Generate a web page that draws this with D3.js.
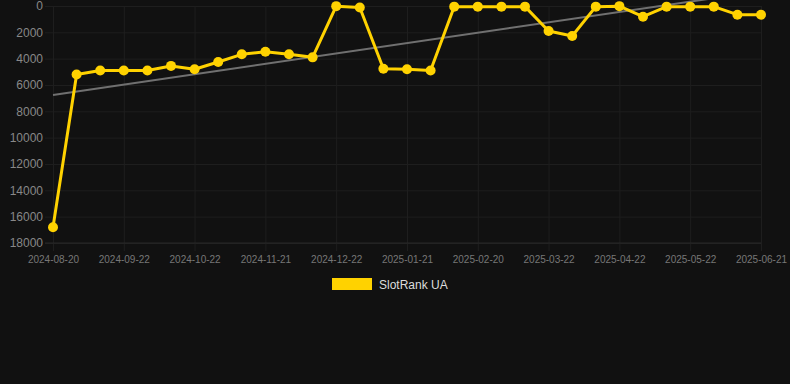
<!DOCTYPE html>
<html>
<head>
<meta charset="utf-8">
<script src="https://cdn.jsdelivr.net/npm/d3@7"></script>
<style>
  html, body { margin: 0; padding: 0; background: #111111; }
  #chart { width: 790px; height: 384px; }
  text { font-family: "Liberation Sans", Arial, sans-serif; }
</style>
</head>
<body>
<div id="chart"></div>
<script>
// dates of each rank reading (category axis, every 3rd is labelled)
var dates = [
  "2024-08-20", "2024-08-31", "2024-09-11", "2024-09-22", "2024-10-02", "2024-10-12",
  "2024-10-22", "2024-11-01", "2024-11-11", "2024-11-21", "2024-12-01", "2024-12-12",
  "2024-12-22", "2025-01-01", "2025-01-11", "2025-01-21", "2025-01-31", "2025-02-10",
  "2025-02-20", "2025-03-02", "2025-03-12", "2025-03-22", "2025-04-01", "2025-04-12",
  "2025-04-22", "2025-05-02", "2025-05-12", "2025-05-22", "2025-06-01", "2025-06-11",
  "2025-06-21"
];

var ranks = [
  16800, 5200, 4900, 4900, 4900, 4550,
  4800, 4250, 3670, 3470, 3670, 3900,
  10, 120, 4760, 4810, 4900, 50,
  50, 50, 50, 1900, 2280, 50,
  10, 810, 50, 50, 50, 660,
  660
];

// trend line, value at first and last date
var trend = [6760, -1120];

var yTicks = [0, 2000, 4000, 6000, 8000, 10000, 12000, 14000, 16000, 18000];
var xTickLabels = dates.filter(function(d, i) { return i % 3 === 0; });

var seriesName = "SlotRank UA";

var width = 790, height = 384;
var margin = {top: 6, right: 29, bottom: 141, left: 53};
var plotW = width - margin.left - margin.right,
    plotH = height - margin.top - margin.bottom;

var svg = d3.select("#chart").append("svg")
    .attr("width", width)
    .attr("height", height)
    .style("background", "#111111");

var g = svg.append("g")
    .attr("transform", "translate(" + margin.left + "," + margin.top + ")");

var x = d3.scalePoint()
    .domain(dates)
    .range([0, plotW]);

// rank axis is reversed: 0 on top
var y = d3.scaleLinear()
    .domain([0, 18000])
    .range([0, plotH]);

var gridColor = "#1e1e1e";

// horizontal grid + y labels
var yAxis = g.append("g")
    .call(d3.axisLeft(y)
        .tickValues(yTicks)
        .tickFormat(function(d) { return d; })
        .tickSize(8)
        .tickPadding(2));
yAxis.select(".domain").remove();
yAxis.selectAll(".tick line").attr("stroke", gridColor);
yAxis.selectAll(".tick").append("line")
    .attr("x1", 0)
    .attr("x2", plotW)
    .attr("stroke", gridColor);
yAxis.selectAll(".tick text")
    .attr("fill", "#888888")
    .style("font-size", "12px");

// vertical grid + x labels
var xAxis = g.append("g")
    .attr("transform", "translate(0," + plotH + ")")
    .call(d3.axisBottom(x)
        .tickValues(xTickLabels)
        .tickSize(8)
        .tickPadding(5));
xAxis.select(".domain").remove();
xAxis.selectAll(".tick line").attr("stroke", gridColor);
xAxis.selectAll(".tick").append("line")
    .attr("y1", 0)
    .attr("y2", -plotH)
    .attr("stroke", gridColor);
xAxis.selectAll(".tick text")
    .attr("fill", "#777777")
    .style("font-size", "10px");

// bottom axis line
g.append("line")
    .attr("x1", -8)
    .attr("x2", plotW)
    .attr("y1", plotH)
    .attr("y2", plotH)
    .attr("stroke", "#282828");

// trend line
g.append("line")
    .attr("x1", x(dates[0]))
    .attr("y1", y(trend[0]))
    .attr("x2", x(dates[dates.length - 1]))
    .attr("y2", y(trend[1]))
    .attr("stroke", "#707070")
    .attr("stroke-width", 2);

var line = d3.line()
    .x(function(d, i) { return x(dates[i]); })
    .y(function(d) { return y(d); });

g.append("path")
    .datum(ranks)
    .attr("fill", "none")
    .attr("stroke", "#FFD200")
    .attr("stroke-width", 3)
    .attr("stroke-linejoin", "round")
    .attr("d", line);

g.selectAll(".dot")
    .data(ranks)
    .enter().append("circle")
    .attr("class", "dot")
    .attr("cx", function(d, i) { return x(dates[i]); })
    .attr("cy", function(d) { return y(d); })
    .attr("r", 5)
    .attr("fill", "#FFD200");

// legend
var legend = svg.append("g").attr("transform", "translate(332,278)");
legend.append("rect")
    .attr("width", 40)
    .attr("height", 12)
    .attr("fill", "#FFD200");
legend.append("text")
    .attr("x", 47)
    .attr("y", 10.5)
    .attr("fill", "#dddddd")
    .style("font-size", "12px")
    .text(seriesName);
</script>
</body>
</html>
